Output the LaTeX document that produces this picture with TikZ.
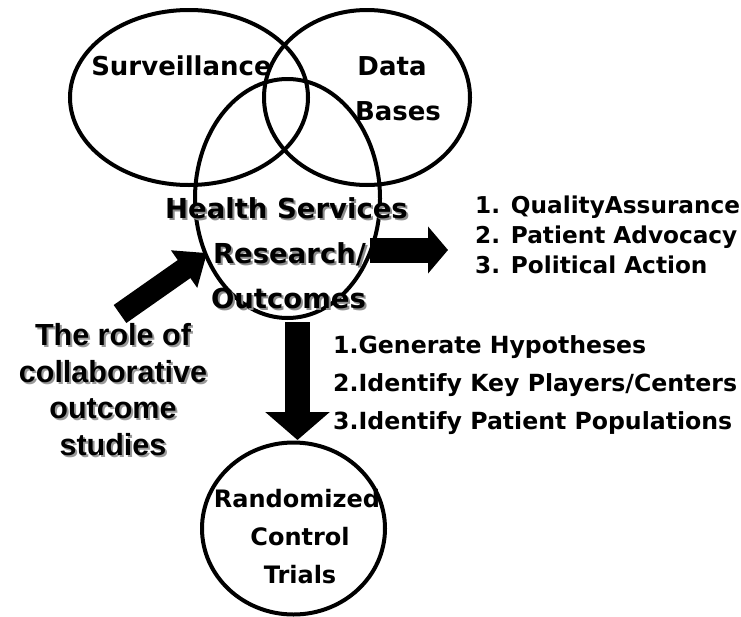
\documentclass[tikz,border=0pt]{standalone}
\usepackage{fontspec}
\setmainfont{DejaVu Sans}
\newfontfamily\arialfont{Liberation Sans}
\usetikzlibrary{arrows.meta,shapes.geometric}
\newcommand{\shadowed}[2][black!45]{\makebox[0pt][l]{\hspace{2pt}\raisebox{-2pt}{\textcolor{#1}{#2}}}#2}
\begin{document}
\begin{tikzpicture}[x=1pt,y=-1pt,
  ring/.style={draw=black, line width=4pt, ellipse, inner sep=0pt},
  lbl/.style={inner sep=0pt, anchor=base, font=\fontsize{#1}{#1}\selectfont\bfseries},
  lbl/.default=26,
  lst/.style={inner sep=0pt, anchor=base west, font=\fontsize{#1}{#1}\selectfont\bfseries},
  ar/.style={inner sep=0pt, anchor=base, font=\fontsize{30.5}{30.5}\selectfont\arialfont\bfseries},
  bigarrow/.style={line width=#1, draw=black}
]
\useasboundingbox (0,0) rectangle (741,616);
\fill[white] (0,0) rectangle (741,616);

% circles
\node[ring, minimum width=238, minimum height=175] (surv) at (189,97.5) {};
\node[ring, minimum width=206, minimum height=175] (db) at (367,97.5) {};
\node[ring, minimum width=185, minimum height=239] (hsr) at (287.5,198.5) {};
\node[ring, minimum width=183, minimum height=172] (rct) at (293.5,528.5) {};

% top labels
\node[lbl=26] (tsurv) at (181.5,75) {Surveillance};
\node[lbl=26] (tdata) at (392,75) {Data};
\node[lbl=26] (tbases) at (398,120) {Bases};

% health services text with shadow
\node[lbl=27.5] (h1) at (286.5,218) {\shadowed{Health Services}};
\node[lbl=27.5] (h2) at (289.5,263) {\shadowed{Research/}};
\node[lbl=27.5] (h3) at (288.5,308) {\shadowed{Outcomes}};

% right list
\node[lst=23.2] (q1) at (475,213) {1. QualityAssurance};
\node[lst=23.2] (q2) at (475,243) {2. Patient Advocacy};
\node[lst=23.2] (q3) at (475,273) {3. Political Action};

% lower list
\node[lst=23.6] (g1) at (333,353) {1.Generate Hypotheses};
\node[lst=23.6] (g2) at (333,391) {2.Identify Key Players/Centers};
\node[lst=23.6] (g3) at (333,429) {3.Identify Patient Populations};

% left text with shadow
\node[ar] (a1) at (113,345) {\shadowed[black!40]{The role of}};
\node[ar] (a2) at (113,382) {\shadowed[black!40]{collaborative}};
\node[ar] (a3) at (113,418) {\shadowed[black!40]{outcome}};
\node[ar] (a4) at (113,455) {\shadowed[black!40]{studies}};

% RCT text
\node[lbl=24] (r1) at (297,507) {Randomized};
\node[lbl=24] (r2) at (300,545) {Control};
\node[lbl=24] (r3) at (300,583) {Trials};

% arrows
\coordinate (rtail) at (370,250);
\coordinate (rtip) at (448,250);
\coordinate (dtail) at (297.5,322);
\coordinate (dtip) at (297.5,440);
\coordinate (ltail) at (120,314);
\coordinate (ltip) at (207,253);
\draw[bigarrow=25pt, -{Triangle[length=20pt,width=46pt]}] (rtail) -- (rtip);
\draw[bigarrow=25pt, -{Triangle[length=28pt,width=63pt]}] (dtail) -- (dtip);
\draw[bigarrow=22pt, -{Triangle[length=28pt,width=44pt]}] (ltail) -- (ltip);
\end{tikzpicture}
\end{document}
